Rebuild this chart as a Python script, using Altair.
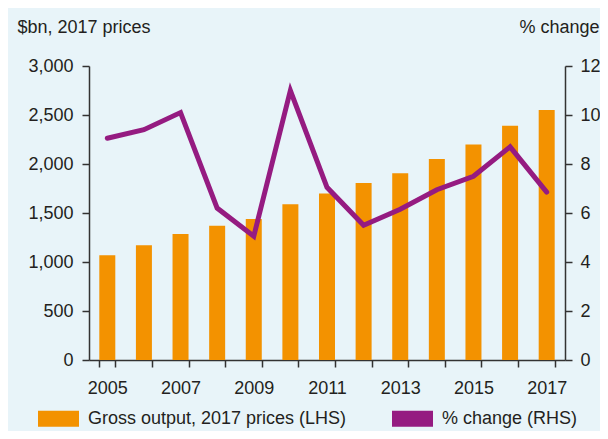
import altair as alt
import pandas as pd

years = ["2005", "2006", "2007", "2008", "2009", "2010", "2011",
         "2012", "2013", "2014", "2015", "2016", "2017"]
output_bn = [1070, 1170, 1285, 1370, 1440, 1590, 1700, 1805, 1905, 2050, 2200, 2390, 2550]
pct_change = [9.05, 9.4, 10.1, 6.2, 5.05, 11.0, 7.05, 5.5, 6.15, 6.95, 7.5, 8.7, 6.85]
series_names = ["Gross output, 2017 prices (LHS)", "% change (RHS)"]
series_colors = ["#f39200", "#951b81"]
left_ticks = [0, 500, 1000, 1500, 2000, 2500, 3000]
right_ticks = [0, 2, 4, 6, 8, 10, 12]

df = pd.DataFrame({"year": years, "output": output_bn, "pct": pct_change,
                   "series": series_names[0]})

FONT = "Liberation Sans"
TXT = "#231f20"
AX = "#333333"

x_enc = alt.X(
    "year:O", title=None,
    scale=alt.Scale(paddingInner=0.563, paddingOuter=0.2815),
    axis=alt.Axis(tickBand="extent", labelAngle=0,
                  labelExpr="parseInt(datum.value) % 2 == 1 ? datum.value : ''",
                  tickSize=7, labelPadding=12),
)

bars = alt.Chart(df).mark_bar().encode(
    x=x_enc,
    y=alt.Y("output:Q", scale=alt.Scale(domain=[0, 3000], nice=False),
            axis=alt.Axis(values=left_ticks,
                          labelExpr="format(datum.value, ',.0f')",
                          title="$bn, 2017 prices",
                          titleAngle=0, titleAlign="left", titleBaseline="alphabetic",
                          titleX=-72, titleY=-34, tickSize=7, labelPadding=9)),
    color=alt.Color("series:N",
                    scale=alt.Scale(domain=series_names, range=series_colors),
                    legend=alt.Legend(orient="none", legendX=-51, legendY=332,
                                      direction="horizontal", title=None,
                                      symbolType="M-1,-0.39H1V0.39H-1Z",
                                      symbolSize=1681, symbolStrokeWidth=0,
                                      labelFont=FONT, labelFontSize=18, labelColor=TXT,
                                      labelLimit=0, labelOffset=9, columnPadding=45,
                                      padding=0)),
)

line = alt.Chart(df).mark_line(color=series_colors[1], strokeWidth=5,
                               strokeJoin="miter", strokeCap="round").encode(
    x=x_enc,
    y=alt.Y("pct:Q", scale=alt.Scale(domain=[0, 12], nice=False),
            axis=alt.Axis(orient="right", values=right_ticks, title="% change",
                          titleAngle=0, titleAlign="right", titleBaseline="alphabetic",
                          titleX=34, titleY=-34, tickSize=7, labelPadding=8)),
)

chart = alt.layer(bars, line).resolve_scale(y="independent").properties(
    width=476, height=294,
    padding={"left": 81, "top": 58, "right": 35, "bottom": 71},
    autosize=alt.AutoSizeParams(type="none"),
    background="#e8f4f9",
).configure_axis(
    grid=False, domainColor=AX, tickColor=AX, domainWidth=1.5, tickWidth=1.5,
    labelFont=FONT, labelFontSize=18, labelColor=TXT,
    titleFont=FONT, titleFontSize=18, titleFontWeight="normal", titleColor=TXT,
).configure_view(stroke=None)

chart.save("out.html", embed_options={"renderer": "svg", "actions": False})
